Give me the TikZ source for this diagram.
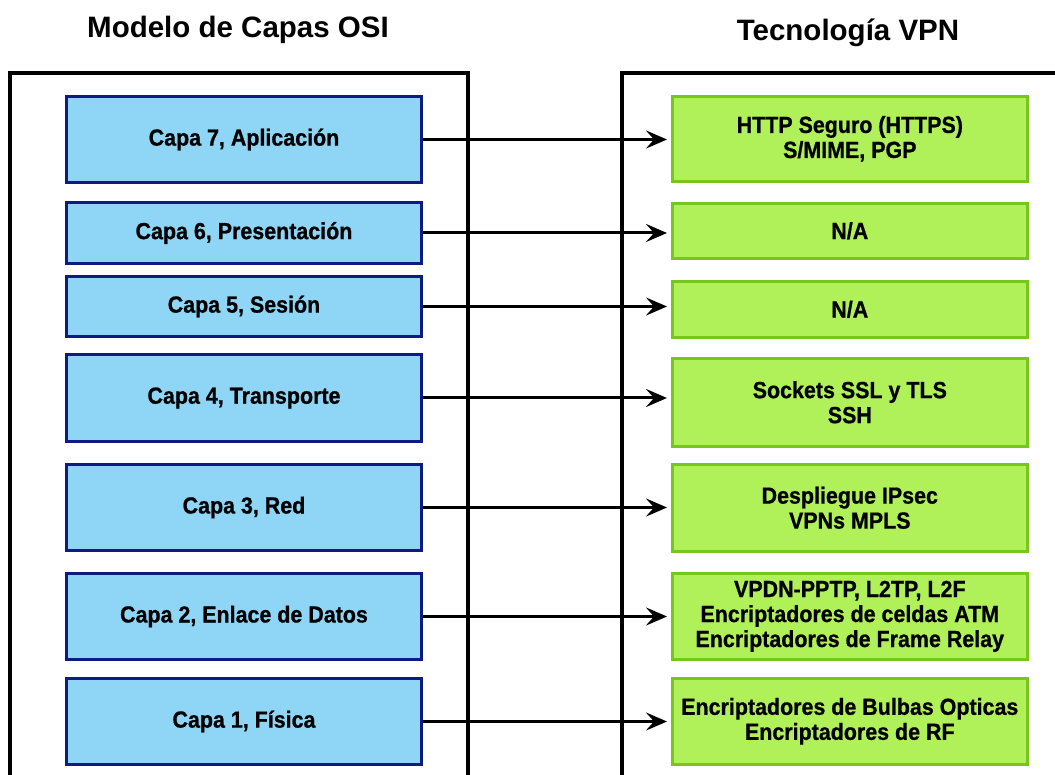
\documentclass[tikz,border=0pt]{standalone}
\usepackage{fontspec}
\setmainfont{Liberation Sans}
\newfontfamily\labelfont[FakeStretch=0.92,FakeBold=0.8]{Liberation Sans}
\usetikzlibrary{arrows.meta}

\definecolor{layerfill}{RGB}{143,214,246}
\definecolor{layerline}{RGB}{14,28,130}
\definecolor{techfill}{RGB}{176,240,88}
\definecolor{techline}{RGB}{118,198,28}

\tikzset{
  frame/.style={line width=3.2pt, black},
  layerbox/.style={draw=layerline, fill=layerfill, line width=3pt,
    minimum width=355pt, inner sep=0pt, anchor=north west,
    font=\labelfont\bfseries\fontsize{23.3}{25}\selectfont, align=center},
  techbox/.style={draw=techline, fill=techfill, line width=2.6pt,
    minimum width=355pt, inner sep=0pt, anchor=north west,
    font=\labelfont\bfseries\fontsize{23.3}{25}\selectfont, align=center},
  heading/.style={font=\bfseries\fontsize{29.5}{32}\selectfont, anchor=base},
  link/.style={line width=3pt, black,
    -{Stealth[length=21pt, width=18pt, inset=8pt]}}
}

\begin{document}
\begin{tikzpicture}[x=1pt, y=-1pt]
  \useasboundingbox (0,0) rectangle (1055,775);
  \clip (0,0) rectangle (1055,775);
  \fill[white] (0,0) rectangle (1055,775);

  % column headings
  \node[heading] (hosi) at (238,38) {Modelo de Capas OSI};
  \node[heading] (hvpn) at (848,41) {Tecnología VPN};

  % open frames running off the page
  \draw[frame] (10,790) -- (10,73) -- (468,73) -- (468,790);
  \draw[frame] (622,790) -- (622,73) -- (1070,73);

  % OSI layers
  \node[layerbox, minimum height=86pt] (b7) at (65,95)  {Capa 7, Aplicación};
  \node[layerbox, minimum height=61pt] (b6) at (65,201) {Capa 6, Presentación};
  \node[layerbox, minimum height=60pt] (b5) at (65,275) {Capa 5, Sesión};
  \node[layerbox, minimum height=87pt] (b4) at (65,353) {Capa 4, Transporte};
  \node[layerbox, minimum height=86pt] (b3) at (65,463) {Capa 3, Red};
  \node[layerbox, minimum height=86pt] (b2) at (65,572) {Capa 2, Enlace de Datos};
  \node[layerbox, minimum height=86pt] (b1) at (65,677) {Capa 1, Física};

  % VPN technologies per layer
  \node[techbox, minimum height=85pt] (g7) at (671,95)  {HTTP Seguro (HTTPS)\\S/MIME, PGP};
  \node[techbox, minimum height=55pt] (g6) at (671,202) {N/A};
  \node[techbox, minimum height=56pt] (g5) at (671,280) {N/A};
  \node[techbox, minimum height=88pt] (g4) at (671,357) {Sockets SSL y TLS\\SSH};
  \node[techbox, minimum height=87pt] (g3) at (671,463) {Despliegue IPsec\\VPNs MPLS};
  \node[techbox, minimum height=86pt] (g2) at (671,572) {VPDN-PPTP, L2TP, L2F\\Encriptadores de celdas ATM\\Encriptadores de Frame Relay};
  \node[techbox, minimum height=86pt] (g1) at (671,677) {Encriptadores de Bulbas Opticas\\Encriptadores de RF};

  % layer-to-technology arrows
  \foreach \n in {7,6,5,4,3,2,1}{
    \draw[link] (b\n.east) -- ([xshift=-4pt]b\n.east -| g\n.west);
  }
\end{tikzpicture}
\end{document}
